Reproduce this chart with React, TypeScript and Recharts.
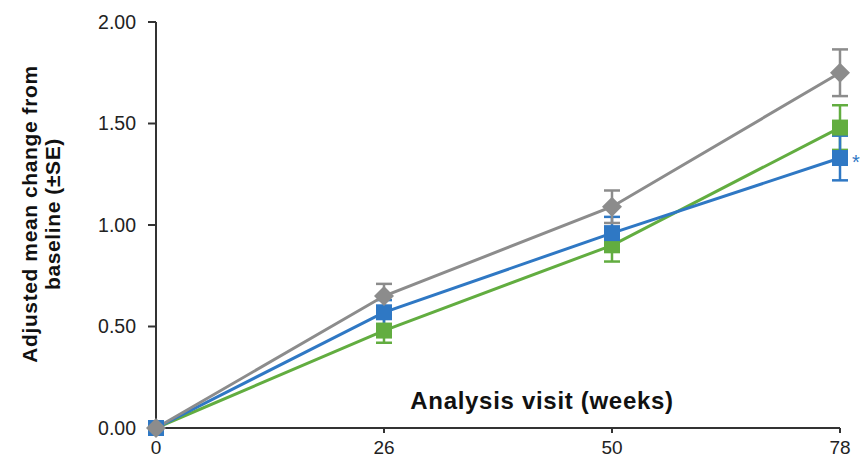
import React from "react"
import { LineChart, Line, XAxis, YAxis, ErrorBar } from "recharts"

const weeks = ["0", "26", "50", "78"]
const grayMean = [0, 0.65, 1.09, 1.75]
const grayErr = [0, 0.06, 0.08, 0.115]
const blueMean = [0, 0.57, 0.96, 1.33]
const blueErr = [0, 0.06, 0.08, 0.11]
const greenMean = [0, 0.48, 0.9, 1.48]
const greenErr = [0, 0.06, 0.08, 0.11]
const yTicks = [0, 0.5, 1, 1.5, 2]

const GRAY = "#8c8c8c"
const BLUE = "#2f78c4"
const GREEN = "#62ad40"

const data = weeks.map((w, i) => ({
  week: w,
  gray: grayMean[i],
  grayErr: grayErr[i],
  blue: blueMean[i],
  blueErr: blueErr[i],
  green: greenMean[i],
  greenErr: greenErr[i],
}))

const squareDot = (color: string, star = false) => (props: any) => {
  const { cx, cy, index } = props
  if (cx == null || cy == null) return <g key={`d-${index}`} />
  return (
    <g key={`d-${color}-${index}`}>
      <rect x={cx - 8} y={cy - 8} width={16} height={16} fill={color} />
      {star && index === weeks.length - 1 && (
        <text x={cx + 12} y={cy + 11} fill={color} fontSize={20} fontFamily="Liberation Sans, Arial, sans-serif">
          *
        </text>
      )}
    </g>
  )
}

const diamondDot = (color: string) => (props: any) => {
  const { cx, cy, index } = props
  if (cx == null || cy == null) return <g key={`g-${index}`} />
  return (
    <polygon
      key={`g-${index}`}
      points={`${cx},${cy - 10} ${cx + 10},${cy} ${cx},${cy + 10} ${cx - 10},${cy}`}
      fill={color}
    />
  )
}

const font = "'Liberation Sans', Arial, sans-serif"

export default function App() {
  return (
    <div style={{ position: "absolute", left: 0, top: 0, width: 868, height: 461, background: "#fff", fontFamily: font }}>
      <LineChart width={868} height={461} data={data} margin={{ top: 22, right: 28, bottom: 0, left: 0 }}>
        <XAxis
          dataKey="week"
          height={33}
          tickLine={{ stroke: "#333", strokeWidth: 2 }}
          tickSize={5}
          axisLine={{ stroke: "#333", strokeWidth: 2 }}
          tick={{ fill: "#222", fontSize: 19, fontFamily: font }}
          tickMargin={8}
        />
        <YAxis
          type="number"
          domain={[0, 2]}
          ticks={yTicks}
          width={156}
          tickFormatter={(v: number) => v.toFixed(2)}
          axisLine={{ stroke: "#333", strokeWidth: 2 }}
          tickLine={{ stroke: "#333", strokeWidth: 2 }}
          tickSize={8}
          tickMargin={12}
          tick={{ fill: "#222", fontSize: 19.5, fontFamily: font }}
        />
        <Line
          dataKey="green"
          stroke={GREEN}
          strokeWidth={3}
          dot={squareDot(GREEN)}
          activeDot={false}
          isAnimationActive={false}
        >
          <ErrorBar dataKey="greenErr" direction="y" width={8} stroke={GREEN} strokeWidth={2.5} />
        </Line>
        <Line
          dataKey="blue"
          stroke={BLUE}
          strokeWidth={3}
          dot={squareDot(BLUE, true)}
          activeDot={false}
          isAnimationActive={false}
        >
          <ErrorBar dataKey="blueErr" direction="y" width={8} stroke={BLUE} strokeWidth={2.5} />
        </Line>
        <Line
          dataKey="gray"
          stroke={GRAY}
          strokeWidth={3}
          dot={diamondDot(GRAY)}
          activeDot={false}
          isAnimationActive={false}
        >
          <ErrorBar dataKey="grayErr" direction="y" width={8} stroke={GRAY} strokeWidth={2.5} />
        </Line>
      </LineChart>
      <div
        style={{
          position: "absolute",
          left: 542,
          top: 401,
          transform: "translate(-50%, -50%)",
          fontSize: 24,
          letterSpacing: 0.7,
          fontWeight: "bold",
          color: "#111",
          whiteSpace: "nowrap",
        }}
      >
        Analysis visit (weeks)
      </div>
      <div
        style={{
          position: "absolute",
          left: 41,
          top: 214,
          transform: "translate(-50%, -50%) rotate(-90deg)",
          fontSize: 21,
          letterSpacing: 0.6,
          fontWeight: "bold",
          color: "#111",
          whiteSpace: "nowrap",
          textAlign: "center",
          lineHeight: "23px",
        }}
      >
        Adjusted mean change from
        <br />
        baseline (±SE)
      </div>
    </div>
  )
}
